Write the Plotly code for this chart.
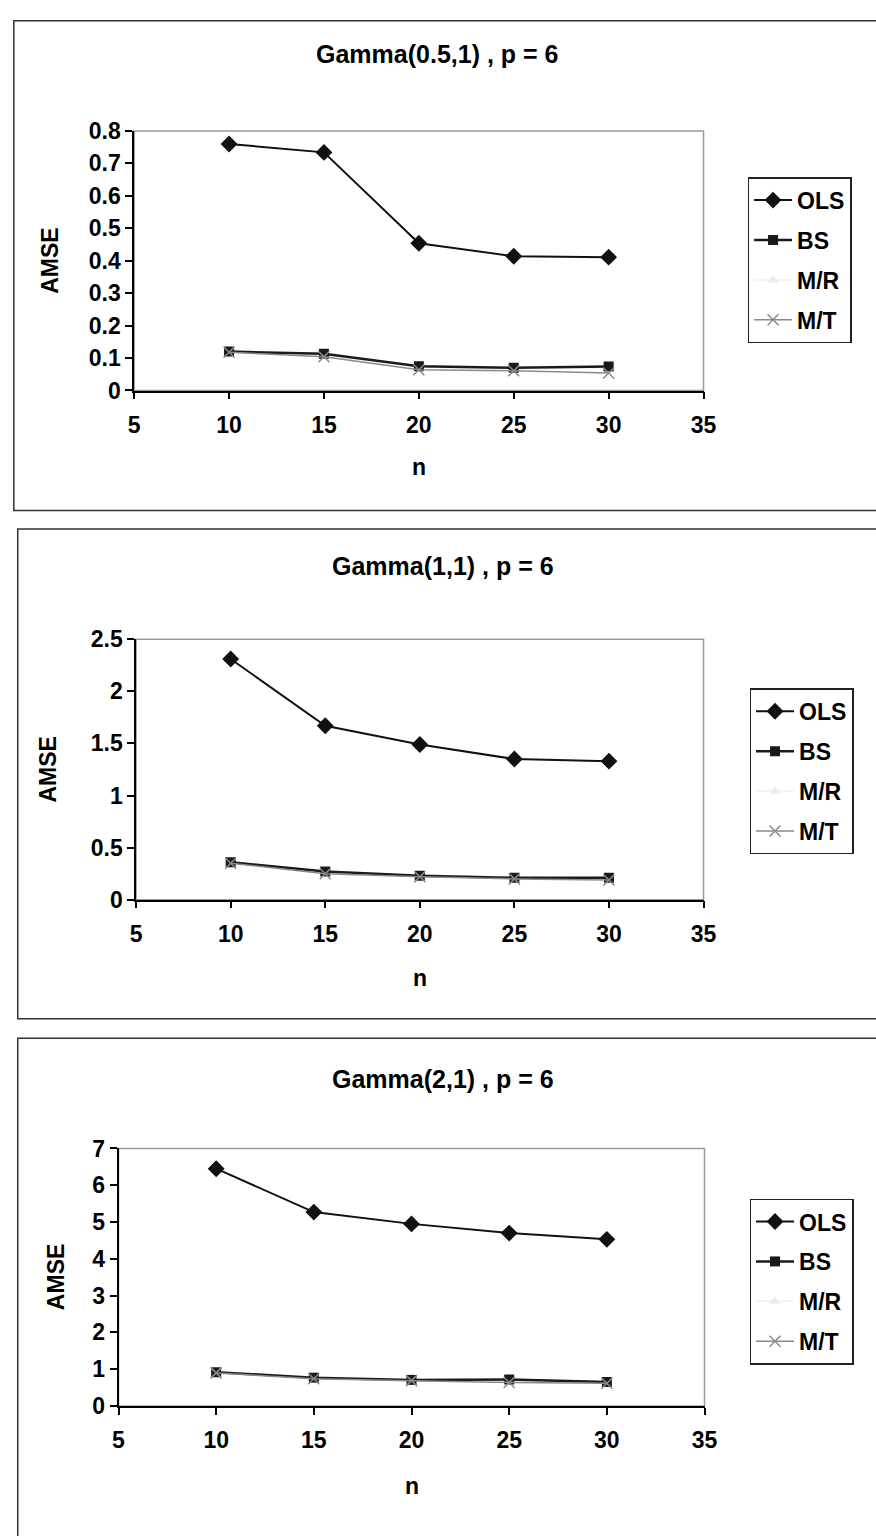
import plotly.graph_objects as go

W, H = 876, 1536
FONT = "Liberation Sans, Arial, sans-serif"

n_vals = [10, 15, 20, 25, 30]
series_names = ["OLS", "BS", "M/R", "M/T"]

titles = ["Gamma(0.5,1) , p = 6", "Gamma(1,1) , p = 6", "Gamma(2,1) , p = 6"]

# Panel 1: Gamma(0.5,1)
ols_1 = [0.76, 0.734, 0.454, 0.414, 0.411]
bs_1 = [0.12, 0.113, 0.075, 0.070, 0.074]
mr_1 = [0.12, 0.110, 0.072, 0.068, 0.070]
mt_1 = [0.118, 0.104, 0.064, 0.061, 0.054]

# Panel 2: Gamma(1,1)
ols_2 = [2.31, 1.67, 1.49, 1.35, 1.33]
bs_2 = [0.36, 0.27, 0.23, 0.21, 0.21]
mr_2 = [0.36, 0.26, 0.22, 0.21, 0.20]
mt_2 = [0.35, 0.25, 0.22, 0.20, 0.19]

# Panel 3: Gamma(2,1)
ols_3 = [6.45, 5.27, 4.95, 4.70, 4.53]
bs_3 = [0.92, 0.77, 0.71, 0.72, 0.65]
mr_3 = [0.92, 0.76, 0.70, 0.69, 0.64]
mt_3 = [0.90, 0.74, 0.69, 0.64, 0.62]

panel_data = [
    [ols_1, bs_1, mr_1, mt_1],
    [ols_2, bs_2, mr_2, mt_2],
    [ols_3, bs_3, mr_3, mt_3],
]

x_range = [5, 35]
y_ranges = [[0, 0.8], [0, 2.5], [0, 7]]
y_dticks = [0.1, 0.5, 1]

# layout geometry in pixels (left, right, top, bottom of plot areas)
plot_px = [(131, 713, 120, 384), (133, 713, 637, 902), (115, 714, 1155, 1417)]
panel_px = [(8, 8, 506), (12, 525, 1023), (12, 1043, 1560)]
title_px = [(441, 42), (447, 563), (447, 1084)]
xlabel_py = [462, 982, 1498]
ylabel_px = [45, 43, 51]
legend_px = [(758, 167), (760, 687), (760, 1206)]


def px(x):
    return x / W


def py(y):
    return 1 - y / H


styles = {
    "OLS": dict(line=dict(color="#111111", width=2),
                marker=dict(symbol="diamond", size=13, color="#111111")),
    "BS": dict(line=dict(color="#1a1a1a", width=2.5),
               marker=dict(symbol="square", size=10, color="#1a1a1a")),
    "M/R": dict(line=dict(color="#f0f0f0", width=1.5),
                marker=dict(symbol="triangle-up", size=10, color="#ececec")),
    "M/T": dict(line=dict(color="#8a8a8a", width=1.5),
                marker=dict(symbol="x-thin-open", size=11,
                            line=dict(color="#8a8a8a", width=1.5))),
}
legend_rank = {"OLS": 1, "BS": 2, "M/R": 3, "M/T": 4}
draw_order = ["M/R", "OLS", "BS", "M/T"]

fig = go.Figure()
shapes = []
annotations = []
layout_axes = {}

for i in range(3):
    suffix = "" if i == 0 else str(i + 1)
    xa, ya = "x" + suffix, "y" + suffix
    leg = "legend" if i == 0 else "legend" + str(i + 1)
    vals_by_name = dict(zip(series_names, panel_data[i]))
    for name in draw_order:
        fig.add_trace(go.Scatter(
            x=n_vals, y=vals_by_name[name], name=name, mode="lines+markers",
            xaxis=xa, yaxis=ya, legend=leg, legendgroup=f"{i}-{name}",
            legendrank=legend_rank[name], **styles[name]))
    l, r, t, b = plot_px[i]
    tickfont = dict(family=FONT, size=23, color="black", weight="bold")
    layout_axes["xaxis" + suffix] = dict(
        domain=[px(l), px(r)], anchor=ya, range=x_range, dtick=5, tick0=5,
        showgrid=False, zeroline=False, showline=True, linecolor="black",
        linewidth=1.5, ticks="outside", ticklen=7, tickcolor="black",
        tickwidth=1.5, tickfont=tickfont, ticklabelstandoff=6)
    layout_axes["yaxis" + suffix] = dict(
        domain=[py(b), py(t)], anchor=xa, range=y_ranges[i], dtick=y_dticks[i],
        tick0=0, showgrid=False, zeroline=False, showline=True,
        linecolor="black", linewidth=1.5, ticks="outside", ticklen=7,
        tickcolor="black", tickwidth=1.5, tickfont=tickfont)
    # plot area border (gray)
    shapes.append(dict(type="rect", xref=xa + " domain", yref=ya + " domain",
                       x0=0, x1=1, y0=0, y1=1, layer="below",
                       line=dict(color="#9a9a9a", width=1.5)))
    # panel border
    pl, pt, pb = panel_px[i]
    shapes.append(dict(type="rect", xref="paper", yref="paper",
                       x0=px(pl), x1=px(W + 20), y0=py(pb), y1=py(pt),
                       layer="below", line=dict(color="#333333", width=1.5)))
    tx, ty = title_px[i]
    annotations.append(dict(text=titles[i], xref="paper", yref="paper",
                            x=px(tx), y=py(ty), showarrow=False,
                            xanchor="center", yanchor="middle",
                            font=dict(family=FONT, size=25, color="black",
                                      weight="bold")))
    annotations.append(dict(text="n", xref="paper", yref="paper",
                            x=px((l + r) / 2), y=py(xlabel_py[i]),
                            showarrow=False, xanchor="center", yanchor="middle",
                            font=dict(family=FONT, size=23, color="black",
                                      weight="bold")))
    annotations.append(dict(text="AMSE", xref="paper", yref="paper",
                            x=px(ylabel_px[i]), y=py((t + b) / 2),
                            showarrow=False, textangle=-90,
                            xanchor="center", yanchor="middle",
                            font=dict(family=FONT, size=23, color="black",
                                      weight="bold")))
    lx, ly = legend_px[i]
    layout_axes[leg] = dict(
        x=px(lx), y=py(ly), xanchor="left", yanchor="top",
        bordercolor="#222222", borderwidth=1.5, bgcolor="white",
        font=dict(family=FONT, size=23, color="black", weight="bold"),
        tracegroupgap=7, itemwidth=38)

fig.update_layout(
    width=W, height=H, margin=dict(l=0, r=0, t=0, b=0),
    paper_bgcolor="white", plot_bgcolor="white",
    shapes=shapes, annotations=annotations, showlegend=True,
    **layout_axes)

fig.write_html("out.html")
